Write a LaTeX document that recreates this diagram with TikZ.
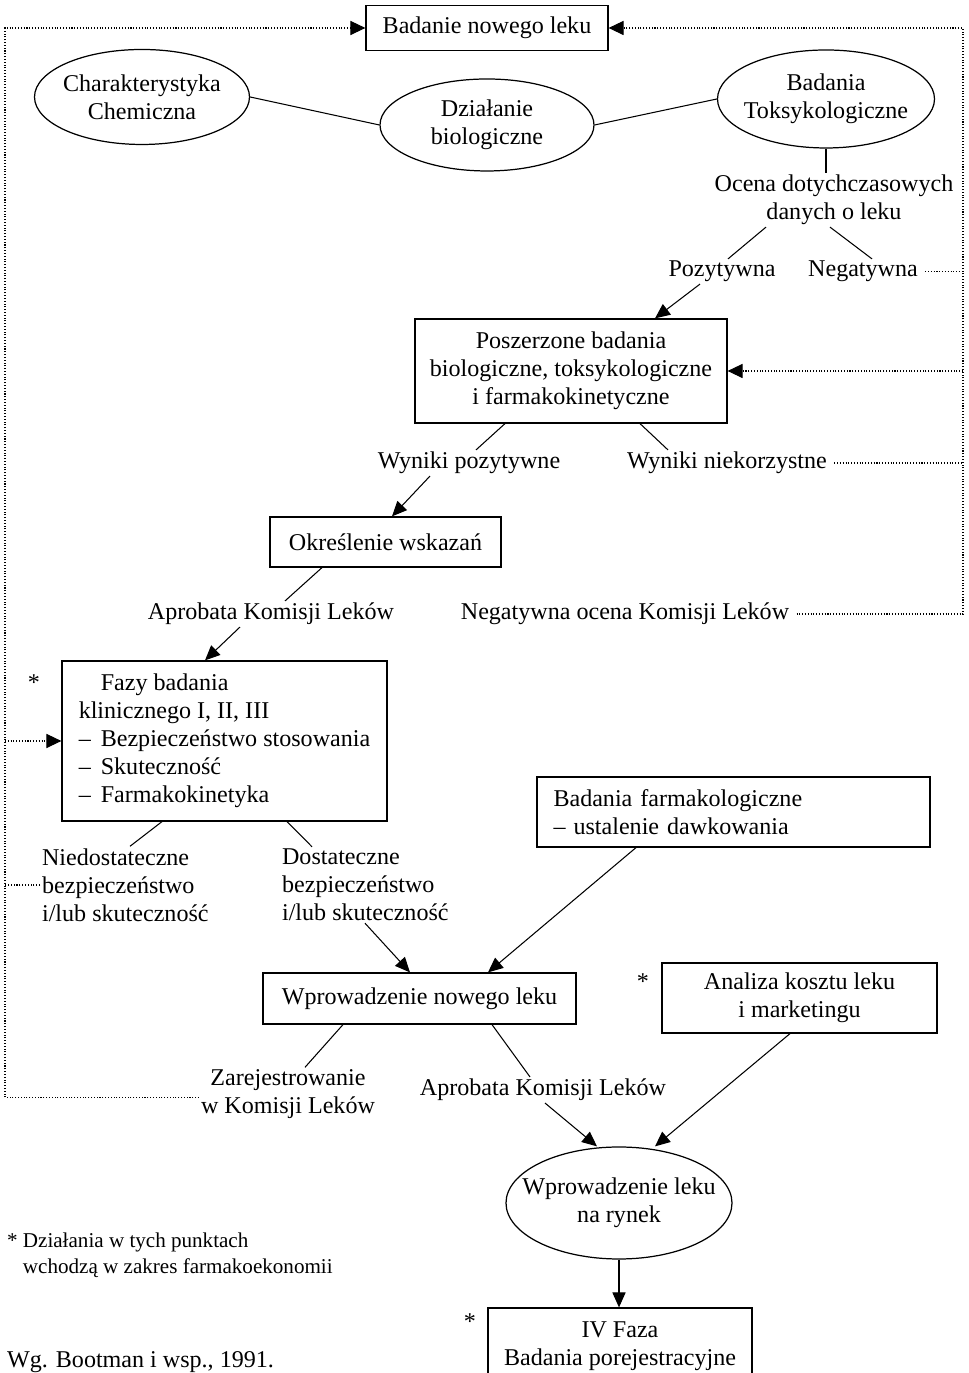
\documentclass[tikz,border=0pt]{standalone}
\usepackage{fontspec}
\setmainfont{Liberation Serif}
\usetikzlibrary{arrows.meta,positioning,shapes.geometric,calc}
\newcommand{\bodyfont}{\fontsize{13.7pt}{16pt}\selectfont}
\newcommand{\notefont}{\fontsize{12pt}{14.7pt}\selectfont}

\begin{document}
\begin{tikzpicture}[
  font=\bodyfont,
  box/.style={draw, line width=0.7pt, align=center, inner sep=0pt},
  ell/.style={draw, line width=0.7pt, ellipse, align=center, inner ysep=0pt, inner xsep=-0.15cm},
  lbl/.style={align=center, inner sep=1pt},
  con/.style={line width=0.6pt},
  arr/.style={line width=0.6pt, -{Triangle[length=8.5pt,width=7.5pt]}},
  back/.style={line width=0.6pt, densely dotted},
  backarr/.style={back, -{Triangle[length=8.5pt,width=8pt]}}
]
  \useasboundingbox (0,0) rectangle (19.36,27.46);
  \clip (0,0) rectangle (19.36,27.46);

  %% Start and first studies
  \node[box, minimum width=4.84cm, minimum height=0.9cm] (start) at (9.74,26.90) {Badanie nowego leku};
  \node[ell, minimum width=4.3cm, minimum height=1.9cm]  (chem) at (2.84,25.52) {Charakterystyka\\Chemiczna};
  \node[ell, minimum width=4.28cm, minimum height=1.84cm] (bio) at (9.74,24.96) {Działanie\\biologiczne};
  \node[ell, minimum width=4.34cm, minimum height=1.96cm] (tox) at (16.52,25.48) {Badania\\Toksykologiczne};
  \draw[con] (chem.east) -- (bio.west);
  \draw[con] (bio.east) -- (tox.west);

  %% Assessment of data
  \node[lbl] (ocena) at (16.68,23.46) {Ocena dotychczasowych\\danych o leku};
  \draw[con] (tox.south) -- (tox.south |- ocena.north);
  \node[lbl] (poz) at (14.44,22.03) {Pozytywna};
  \node[lbl] (neg) at (17.26,22.03) {Negatywna};
  \draw[con] ([xshift=-1.36cm]ocena.south) -- ([xshift=0.12cm]poz.north);
  \draw[con] ([xshift=-0.08cm]ocena.south) -- ([xshift=0.18cm]neg.north);

  %% Extended studies
  \node[box, minimum width=6.24cm, minimum height=2.08cm] (ext) at (11.42,20.04) {Poszerzone badania\\biologiczne, toksykologiczne\\i farmakokinetyczne};
  \draw[arr] ([xshift=-0.44cm]poz.south) -- ([xshift=1.68cm]ext.north);
  \node[lbl] (wpoz) at (9.38,18.20) {Wyniki pozytywne};
  \node[lbl] (wneg) at (14.54,18.20) {Wyniki niekorzystne};
  \draw[con] ([xshift=-1.32cm]ext.south) -- ([xshift=0.14cm]wpoz.north);
  \draw[con] ([xshift=1.38cm]ext.south) -- ([xshift=-1.18cm]wneg.north);

  %% Indications
  \node[box, minimum width=4.62cm, minimum height=1.0cm] (wsk) at (7.71,16.62) {Określenie wskazań};
  \draw[arr] ([xshift=-0.78cm]wpoz.south) -- ([xshift=0.13cm]wsk.north);
  \node[lbl] (apr1) at (5.42,15.18) {Aprobata Komisji Leków};
  \node[lbl] (nocena) at (12.5,15.18) {Negatywna ocena Komisji Leków};
  \draw[con] ([xshift=-1.27cm]wsk.south) -- ([xshift=0.28cm]apr1.north);

  %% Clinical phases
  \node[box, minimum width=6.5cm, minimum height=3.2cm, align=left] (faz) at (4.49,12.64) {\phantom{–\ \,}Fazy badania\\klinicznego I, II, III\\–\ \,Bezpieczeństwo stosowania\\–\ \,Skuteczność\\–\ \,Farmakokinetyka};
  \node[lbl] (st1) at (0.68,13.80) {*};
  \draw[arr] ([xshift=-0.62cm]apr1.south) -- ([xshift=-0.39cm]faz.north);
  \node[lbl, align=left, anchor=west] (niedo) at (0.8,9.76) {Niedostateczne\\bezpieczeństwo\\i/lub skuteczność};
  \node[lbl, align=left, anchor=west] (dost) at (5.6,9.76) {Dostateczne\\bezpieczeństwo\\i/lub skuteczność};
  \draw[con] ([xshift=-1.25cm]faz.south) -- ([xshift=1.8cm]niedo.north west);
  \draw[con] ([xshift=1.25cm]faz.south) -- ([xshift=0.64cm]dost.north west);

  %% Pharmacology
  \node[box, minimum width=7.86cm, minimum height=1.4cm, align=left, text width=7.2cm] (farm) at (14.67,11.22) {Badania farmakologiczne\\– ustalenie dawkowania};

  %% Introduction
  \node[box, minimum width=6.26cm, minimum height=1.02cm] (wpr) at (8.39,7.49) {Wprowadzenie nowego leku};
  \draw[arr] ([xshift=1.7cm]dost.south west) -- ([xshift=-0.19cm]wpr.north);
  \draw[arr] ([xshift=-1.95cm]farm.south) -- ([xshift=1.37cm]wpr.north);
  \node[box, minimum width=5.5cm, minimum height=1.4cm] (anal) at (15.99,7.50) {Analiza kosztu leku\\i marketingu};
  \node[lbl] (st2) at (12.86,7.82) {*};
  \node[lbl] (rej) at (5.76,5.58) {Zarejestrowanie\\w Komisji Leków};
  \node[lbl] (apr2) at (10.86,5.66) {Aprobata Komisji Leków};
  \draw[con] ([xshift=-1.53cm]wpr.south) -- ([xshift=0.34cm]rej.north);
  \draw[con] ([xshift=1.45cm]wpr.south) -- ([xshift=-0.26cm]apr2.north);

  %% Market
  \node[ell, inner xsep=-0.35cm, minimum width=4.52cm, minimum height=2.24cm] (ryn) at (12.38,3.40) {Wprowadzenie leku\\na rynek};
  \draw[arr] ([xshift=0.04cm]apr2.south) -- ([xshift=-0.44cm]ryn.north);
  \draw[arr] ([xshift=-0.19cm]anal.south) -- ([xshift=0.72cm]ryn.north);
  \node[box, minimum width=5.28cm, minimum height=1.54cm] (iv) at (12.40,0.53) {IV Faza\\Badania porejestracyjne};
  \node[lbl] (st3) at (9.40,1.02) {*};
  \draw[arr] (ryn.south) -- (ryn.south |- iv.north);

  %% Notes
  \node[lbl, align=left, anchor=west, font=\notefont] (note) at (0.1,2.36) {* Działania w tych punktach\\\phantom{* }wchodzą w zakres farmakoekonomii};
  \node[lbl, anchor=base west] (src) at (0.1,0.10) {Wg. Bootman i wsp., 1991.};

  %% Dotted return paths
  \coordinate (ltop) at (0.10,26.90);
  \coordinate (rtop) at (19.26,26.90);
  \draw[backarr] ([yshift=-2pt]rej.west) -| (ltop) -- (start.west);
  \draw[backarr] ([xshift=3pt]nocena.east) -| (rtop) -- (start.east);
  \draw[back] ([xshift=3pt]neg.east) -- (neg.east -| rtop);
  \draw[back] ([xshift=3pt]wneg.east) -- (wneg.east -| rtop);
  \draw[backarr] (ext.east -| rtop) -- (ext.east);
  \draw[backarr] (faz.west -| ltop) -- (faz.west);
  \draw[back] (niedo.west) -- (niedo.west -| ltop);
\end{tikzpicture}
\end{document}
